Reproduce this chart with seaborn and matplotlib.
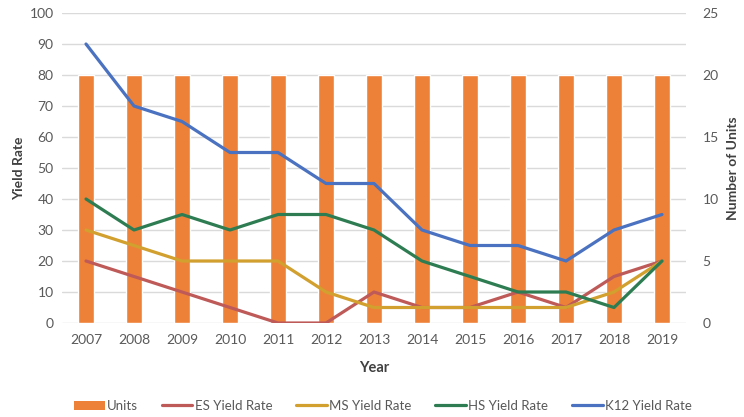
import numpy as np
import pandas as pd
import matplotlib
matplotlib.use("Agg")
import matplotlib.pyplot as plt
import seaborn as sns
from matplotlib.patches import Patch
from matplotlib.lines import Line2D
from matplotlib.ticker import MultipleLocator

years = ["2007", "2008", "2009", "2010", "2011", "2012", "2013",
         "2014", "2015", "2016", "2017", "2018", "2019"]
units = [20, 20, 20, 20, 20, 20, 20, 20, 20, 20, 20, 20, 20]
es_yield = [20, 15, 10, 5, 0, 0, 10, 5, 5, 10, 5, 15, 20]
ms_yield = [30, 25, 20, 20, 20, 10, 5, 5, 5, 5, 5, 10, 20]
hs_yield = [40, 30, 35, 30, 35, 35, 30, 20, 15, 10, 10, 5, 20]
k12_yield = [90, 70, 65, 55, 55, 45, 45, 30, 25, 25, 20, 30, 35]

series_names = ["ES Yield Rate", "MS Yield Rate", "HS Yield Rate", "K12 Yield Rate"]
series_vals = [es_yield, ms_yield, hs_yield, k12_yield]
series_colors = ["#BE5A58", "#D1A02E", "#2E7D52", "#4A72C0"]
bar_color = "#EE8138"

sns.set_theme(style="white")
plt.rcParams["font.family"] = ["Lato", "DejaVu Sans"]

fig = plt.figure(figsize=(7.44, 4.17), dpi=100)
ax = fig.add_axes([62 / 744, 1 - 323 / 417, 624 / 744, 310 / 417])
ax2 = ax.twinx()

pos = np.arange(len(years))

# bars on right axis (categorical positions 0..n-1)
df_units = pd.DataFrame({"Year": years, "Units": units})
sns.barplot(data=df_units, x="Year", y="Units", ax=ax2, color=bar_color,
            saturation=1, width=0.32, zorder=2)

# lines on left axis
long = pd.DataFrame({
    "pos": np.tile(pos, len(series_names)),
    "value": np.concatenate(series_vals),
    "series": np.repeat(series_names, len(years)),
})
sns.lineplot(data=long, x="pos", y="value", hue="series", palette=series_colors,
             hue_order=series_names, ax=ax, linewidth=2.3, legend=False)

ax.set_zorder(ax2.get_zorder() + 1)
ax.patch.set_visible(False)

ax.set_xlim(-0.5, len(years) - 0.5)
ax2.set_xlim(-0.5, len(years) - 0.5)
ax.set_ylim(0, 100)
ax2.set_ylim(0, 25)
ax.yaxis.set_major_locator(MultipleLocator(10))
ax2.yaxis.set_major_locator(MultipleLocator(5))
ax2.yaxis.set_minor_locator(MultipleLocator(2.5))
ax.grid(False)
ax2.grid(False)
ax2.grid(True, which="both", axis="y", color="#DADADA", linewidth=1.0, zorder=0)
ax2.set_axisbelow(True)

ax.set_xticks(pos)
ax.set_xticklabels(years)
ax2.set_xlabel("")
for a in (ax, ax2):
    for s in a.spines.values():
        s.set_visible(False)
    a.tick_params(axis="both", which="both", length=0, labelsize=10, colors="#595959")
ax.tick_params(axis="x", pad=8)
ax.tick_params(axis="y", pad=6)
ax2.tick_params(axis="y", pad=12)

ax.set_xlabel("Year", fontsize=10.5, fontweight="bold", color="#404040", labelpad=11)
ax.set_ylabel("Yield Rate", fontsize=10, fontweight="bold", color="#404040", labelpad=3)
ax2.set_ylabel("Number of Units", fontsize=10, fontweight="bold", color="#404040", labelpad=6)

handles = [Patch(facecolor=bar_color, edgecolor="none", label="Units")]
for n, c in zip(series_names, series_colors):
    handles.append(Line2D([0], [0], color=c, linewidth=2.3, label=n))
fig.legend(handles=handles, loc="center", bbox_to_anchor=(0.515, 1 - 406 / 417),
           ncol=5, frameon=False, fontsize=9.5, handlelength=2.3,
           handletextpad=0.2, columnspacing=1.8, labelcolor="#595959")

fig.savefig("out.png", dpi=100)
